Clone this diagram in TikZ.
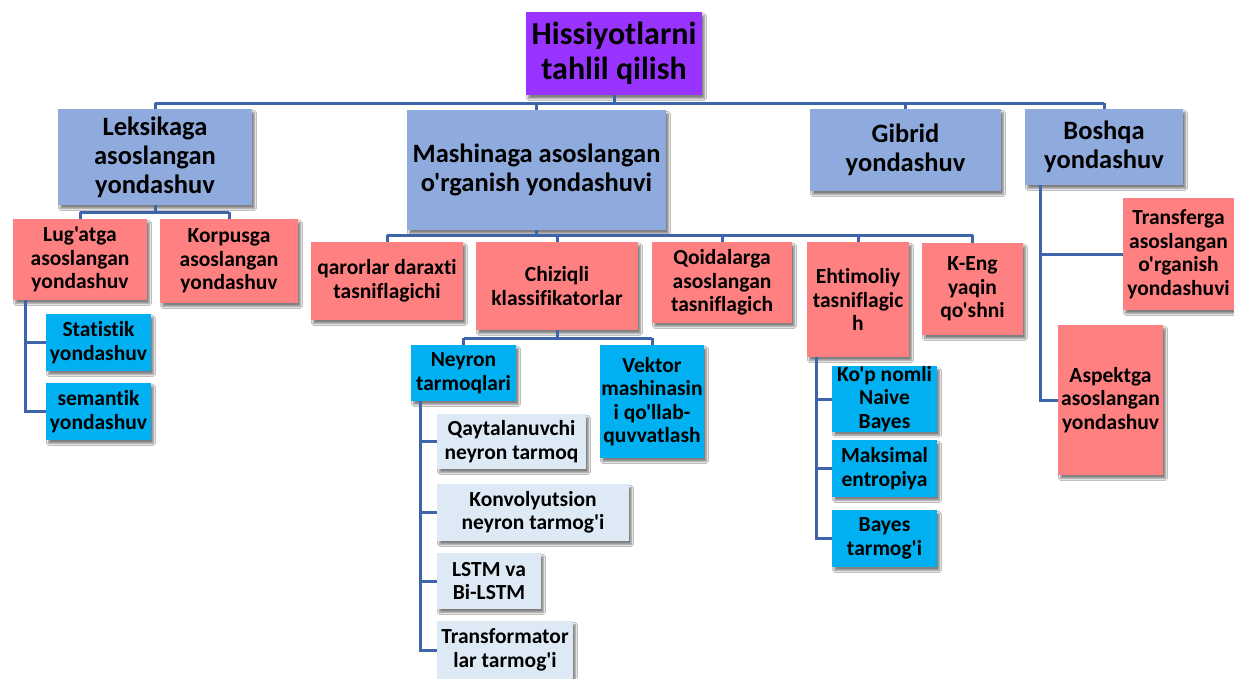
\documentclass[tikz,border=0pt]{standalone}
\usepackage{fontspec}
\setmainfont{Carlito}[Ligatures={TeXOff,NoCommon}]
\usetikzlibrary{shadows.blur}
\definecolor{rootc}{RGB}{153,51,255}
\definecolor{lvla}{RGB}{143,170,220}
\definecolor{salm}{RGB}{255,128,128}
\definecolor{cyanc}{RGB}{0,176,240}
\definecolor{pale}{RGB}{222,233,246}
\definecolor{linec}{RGB}{62,100,170}
\begin{document}
\begin{tikzpicture}[x=1pt,y=-1pt,
  bx/.style={align=center, inner sep=0pt, text=black,
    font=\bfseries\fontsize{21.5}{23.5}\selectfont,
    blur shadow={shadow xshift=2.5pt, shadow yshift=-3.5pt, shadow blur steps=6, shadow opacity=50}},
  rootbox/.style={bx, fill=rootc, font=\bfseries\fontsize{32}{34.5}\selectfont},
  lvlbox/.style={bx, fill=lvla, font=\bfseries\fontsize{26.5}{29}\selectfont},
  salbox/.style={bx, fill=salm},
  cyabox/.style={bx, fill=cyanc},
  palebox/.style={bx, fill=pale},
  conn/.style={draw=linec, line width=3pt, line join=miter}]
\fill[white] (0,0) rectangle (1234,678);
\useasboundingbox (0,0) rectangle (1234,678);

% root and level 1
\node[rootbox, minimum width=176pt, minimum height=83pt] (root) at (614,53.5) {Hissiyotlarni\\tahlil qilish};
\node[lvlbox, minimum width=194pt, minimum height=96pt] (leks) at (155,157) {Leksikaga\\asoslangan\\yondashuv};
\node[lvlbox, minimum width=259pt, minimum height=120pt] (mash) at (536.5,170) {Mashinaga asoslangan\\o'rganish yondashuvi};
\node[lvlbox, minimum width=191pt, minimum height=82pt] (gib) at (905.5,150) {Gibrid\\yondashuv};
\node[lvlbox, minimum width=158pt, minimum height=76pt] (bosh) at (1104,147) {Boshqa\\yondashuv};

% lexicon branch
\node[salbox, minimum width=134pt, minimum height=81pt] (lug) at (80,259.5) {Lug'atga\\asoslangan\\yondashuv};
\node[salbox, minimum width=138pt, minimum height=84pt] (korp) at (229,261) {Korpusga\\asoslangan\\yondashuv};
\node[cyabox, minimum width=105pt, minimum height=57pt] (stat) at (98.5,342.5) {Statistik\\yondashuv};
\node[cyabox, minimum width=105pt, minimum height=57pt] (sem) at (98.5,411.5) {semantik\\yondashuv};

% machine learning branch
\node[salbox, minimum width=152pt, minimum height=78pt] (qar) at (387,281) {qarorlar daraxti\\tasniflagichi};
\node[salbox, minimum width=162pt, minimum height=88pt] (chiz) at (557,286) {Chiziqli\\klassifikatorlar};
\node[salbox, minimum width=140pt, minimum height=81pt] (qoid) at (722,282.5) {Qoidalarga\\asoslangan\\tasniflagich};
\node[salbox, minimum width=102pt, minimum height=115pt] (eht) at (858,299.5) {Ehtimoliy\\tasniflagic\\h};
\node[salbox, minimum width=101pt, minimum height=92pt] (keng) at (972.5,289) {K-Eng\\yaqin\\qo'shni};

\node[cyabox, minimum width=105pt, minimum height=56pt] (ney) at (463.5,373) {Neyron\\tarmoqlari};
\node[cyabox, minimum width=104pt, minimum height=113pt] (vek) at (652,401.5) {Vektor\\mashinasin\\i qo'llab-\\quvvatlash};

\node[palebox, minimum width=149pt, minimum height=55pt] (qayt) at (511.5,441.5) {Qaytalanuvchi\\neyron tarmoq};
\node[palebox, minimum width=192pt, minimum height=57pt] (konv) at (533,512.5) {Konvolyutsion\\neyron tarmog'i};
\node[palebox, minimum width=104pt, minimum height=56pt] (lstm) at (489,581) {LSTM va\\Bi-LSTM};
\node[palebox, minimum width=136pt, minimum height=58pt] (trans) at (505,650) {Transformator\\lar tarmog'i};

\node[cyabox, minimum width=105pt, minimum height=56pt] (kop) at (884.5,399) {Ko'p nomli\\Naive\\Bayes};
\node[cyabox, minimum width=105pt, minimum height=57pt] (maks) at (884.5,468.5) {Maksimal\\entropiya};
\node[cyabox, minimum width=105pt, minimum height=57pt] (bay) at (884.5,538.5) {Bayes\\tarmog'i};

% other branch
\node[salbox, minimum width=111pt, minimum height=112pt] (transf) at (1178.5,254) {Transferga\\asoslangan\\o'rganish\\yondashuvi};
\node[salbox, minimum width=105pt, minimum height=150pt] (asp) at (1110.5,400) {Aspektga\\asoslangan\\yondashuv};

% buses
\coordinate (b1) at (0,103);
\coordinate (b2) at (0,212);
\coordinate (b3) at (0,235);
\coordinate (b4) at (0,338);

\draw[conn] (root.south) -- (root.south |- b1);
\draw[conn] (leks.north |- b1) -- (bosh.north |- b1);
\foreach \n in {leks,mash,gib,bosh} \draw[conn] (\n.north) -- (\n.north |- b1);

\draw[conn] (leks.south) -- (leks.south |- b2);
\draw[conn] (lug.north |- b2) -- (korp.north |- b2);
\foreach \n in {lug,korp} \draw[conn] (\n.north) -- (\n.north |- b2);
\draw[conn] ([xshift=13pt]lug.south west) |- (stat.west);
\draw[conn] ([xshift=13pt]lug.south west) |- (sem.west);

\draw[conn] (mash.south) -- (mash.south |- b3);
\draw[conn] (qar.north |- b3) -- (keng.north |- b3);
\foreach \n in {qar,chiz,qoid,eht,keng} \draw[conn] (\n.north) -- (\n.north |- b3);

\draw[conn] (chiz.south) -- (chiz.south |- b4);
\draw[conn] (ney.north |- b4) -- (vek.north |- b4);
\foreach \n in {ney,vek} \draw[conn] (\n.north) -- (\n.north |- b4);

\foreach \n in {qayt,konv,lstm,trans} \draw[conn] ([xshift=10pt]ney.south west) |- (\n.west);
\foreach \n in {kop,maks,bay} \draw[conn] ([xshift=10pt]eht.south west) |- (\n.west);
\foreach \n in {transf,asp} \draw[conn] ([xshift=16pt]bosh.south west) |- (\n.west);
\end{tikzpicture}
\end{document}
